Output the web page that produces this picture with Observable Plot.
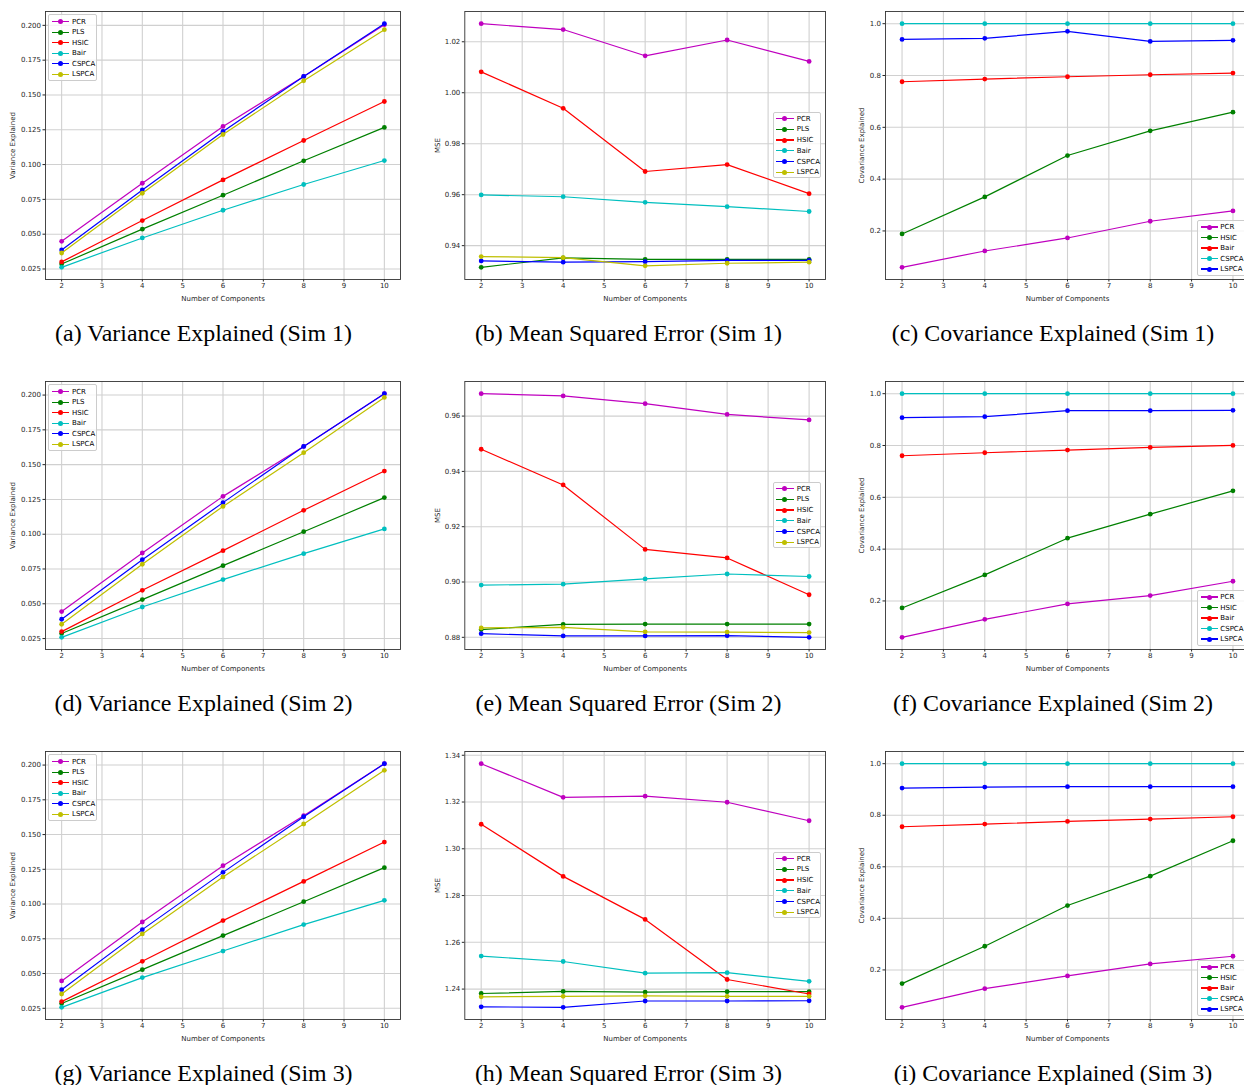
<!DOCTYPE html>
<html><head><meta charset="utf-8">
<script src="https://cdn.jsdelivr.net/npm/d3@7"></script>
<script src="https://cdn.jsdelivr.net/npm/@observablehq/plot@0.6"></script>
<style>
html,body{margin:0;padding:0;background:#fff;overflow:hidden;width:1244px;height:1085px;}
#root{position:relative;width:1244px;height:1085px;overflow:hidden;}
.panel{position:absolute;}
.caption{position:absolute;font-family:"Liberation Serif","Times New Roman",serif;font-size:23.9px;line-height:1;text-align:center;white-space:nowrap;color:#000;}
.legend{position:absolute;background:rgba(255,255,255,0.8);border:0.8px solid #cccccc;border-radius:2px;box-sizing:border-box;font-family:"DejaVu Sans",sans-serif;font-size:7px;color:#000;}
.entry{position:absolute;left:0;height:10px;width:100%;}
.entry .ln{position:absolute;height:1.2px;top:4.4px;width:17.6px;}
.entry .dt{position:absolute;width:5px;height:5px;border-radius:50%;top:2.5px;}
.entry .tx{position:absolute;top:0;line-height:10px;white-space:nowrap;}
</style></head>
<body><div id="root"></div>
<script>
const components = [2, 4, 6, 8, 10];
const xTicks = [2, 3, 4, 5, 6, 7, 8, 9, 10];
const methodsVar = ["PCR", "PLS", "HSIC", "Bair", "CSPCA", "LSPCA"];
const methodsCov = ["PCR", "HSIC", "Bair", "CSPCA", "LSPCA"];
const colorsVar = ["#bf00bf", "#008000", "#ff0000", "#00bfbf", "#0000ff", "#bfbf00"];
const colorsCov = ["#bf00bf", "#008000", "#ff0000", "#00bfbf", "#0000ff"];

const varSim1 = [
  [0.0449, 0.0866, 0.1274, 0.1633, 0.2005],
  [0.0286, 0.0536, 0.0780, 0.1027, 0.1267],
  [0.0301, 0.0598, 0.0890, 0.1173, 0.1453],
  [0.0262, 0.0473, 0.0672, 0.0857, 0.1029],
  [0.0387, 0.0818, 0.1238, 0.1633, 0.2012],
  [0.0365, 0.0794, 0.1216, 0.1602, 0.1969]
];
const mseSim1 = [
  [1.0271, 1.0248, 1.0145, 1.0207, 1.0123],
  [0.9315, 0.9352, 0.9346, 0.9346, 0.9346],
  [1.0082, 0.9939, 0.9691, 0.9718, 0.9604],
  [0.9599, 0.9592, 0.9570, 0.9553, 0.9534],
  [0.9340, 0.9335, 0.9337, 0.9342, 0.9342],
  [0.9357, 0.9353, 0.9321, 0.9331, 0.9335]
];
const covSim1 = [
  [0.0596, 0.1227, 0.1729, 0.2374, 0.2773],
  [0.1884, 0.3314, 0.4911, 0.5865, 0.6586],
  [0.7758, 0.7861, 0.7952, 0.8029, 0.8093],
  [1.0, 1.0, 1.0, 1.0, 1.0],
  [0.9394, 0.9433, 0.9704, 0.9317, 0.9356]
];
const varSim2 = [
  [0.0444, 0.0865, 0.1272, 0.1631, 0.2010],
  [0.0286, 0.0530, 0.0774, 0.1018, 0.1263],
  [0.0300, 0.0597, 0.0882, 0.1172, 0.1454],
  [0.0259, 0.0477, 0.0674, 0.0860, 0.1038],
  [0.0389, 0.0817, 0.1227, 0.1631, 0.2010],
  [0.0353, 0.0784, 0.1200, 0.1586, 0.1983]
];
const mseSim2 = [
  [0.9681, 0.9673, 0.9645, 0.9606, 0.9586],
  [0.8828, 0.8847, 0.8848, 0.8848, 0.8848],
  [0.9480, 0.9351, 0.9118, 0.9087, 0.8954],
  [0.8989, 0.8992, 0.9011, 0.9029, 0.9020],
  [0.8813, 0.8805, 0.8805, 0.8806, 0.8800],
  [0.8834, 0.8836, 0.8820, 0.8819, 0.8817]
];
const covSim2 = [
  [0.0596, 0.1291, 0.1884, 0.2206, 0.2760],
  [0.1729, 0.3005, 0.4422, 0.5349, 0.6251],
  [0.7604, 0.7720, 0.7823, 0.7926, 0.8003],
  [1.0, 1.0, 1.0, 1.0, 1.0],
  [0.9072, 0.9111, 0.9343, 0.9343, 0.9356]
];
const varSim3 = [
  [0.0447, 0.0871, 0.1276, 0.1636, 0.2010],
  [0.0284, 0.0528, 0.0773, 0.1017, 0.1262],
  [0.0298, 0.0588, 0.0881, 0.1163, 0.1446],
  [0.0257, 0.0471, 0.0662, 0.0852, 0.1027],
  [0.0384, 0.0816, 0.1228, 0.1628, 0.2010],
  [0.0353, 0.0785, 0.1195, 0.1576, 0.1962]
];
const mseSim3 = [
  [1.3364, 1.3220, 1.3225, 1.3199, 1.3120],
  [1.2381, 1.2390, 1.2387, 1.2389, 1.2389],
  [1.3105, 1.2882, 1.2698, 1.2441, 1.2379],
  [1.2541, 1.2518, 1.2468, 1.2470, 1.2433],
  [1.2324, 1.2322, 1.2349, 1.2349, 1.2350],
  [1.2367, 1.2369, 1.2371, 1.2369, 1.2369]
];
const covSim3 = [
  [0.0550, 0.1275, 0.1767, 0.2233, 0.2531],
  [0.1469, 0.2919, 0.4498, 0.5638, 0.7010],
  [0.7553, 0.7657, 0.7761, 0.7851, 0.7942],
  [1.0, 1.0, 1.0, 1.0, 1.0],
  [0.9055, 0.9094, 0.9107, 0.9107, 0.9107]
];

const varTicks = [0.025, 0.05, 0.075, 0.1, 0.125, 0.15, 0.175, 0.2];
const mseTicks1 = [0.94, 0.96, 0.98, 1.0, 1.02];
const mseTicks2 = [0.88, 0.90, 0.92, 0.94, 0.96];
const mseTicks3 = [1.24, 1.26, 1.28, 1.30, 1.32, 1.34];
const covTicks = [0.2, 0.4, 0.6, 0.8, 1.0];

const captions = [
  ["(a) Variance Explained (Sim 1)", "(b) Mean Squared Error (Sim 1)", "(c) Covariance Explained (Sim 1)"],
  ["(d) Variance Explained (Sim 2)", "(e) Mean Squared Error (Sim 2)", "(f) Covariance Explained (Sim 2)"],
  ["(g) Variance Explained (Sim 3)", "(h) Mean Squared Error (Sim 3)", "(i) Covariance Explained (Sim 3)"]
];

const root = document.getElementById("root");

const cols = [
  {left: 0, width: 410, ml: 45, mr: 10, ylabel: "Variance Explained", fmt: d3.format(".3f"), labelOffset: 35,
   legend: {left: 48, top: 14, width: 49, height: 67, line: 2.7, text: 23, first: 6.7, step: 10.5}},
  {left: 410, width: 420, ml: 54.3, mr: 5, ylabel: "MSE", fmt: d3.format(".2f"), labelOffset: 30,
   legend: {left: 772.7, top: 112, width: 48.3, height: 66.3, line: 2.3, text: 23, first: 5.7, step: 10.7}},
  {left: 830, width: 424, ml: 55, mr: 5, ylabel: "Covariance Explained", fmt: d3.format(".1f"), labelOffset: 26,
   legend: {left: 1197.3, top: 220, width: 60, height: 55.7, line: 2.4, text: 22, first: 6, step: 10.5}}
];

const panels = [
  [[varSim1, methodsVar, colorsVar, varTicks], [mseSim1, methodsVar, colorsVar, mseTicks1], [covSim1, methodsCov, colorsCov, covTicks]],
  [[varSim2, methodsVar, colorsVar, varTicks], [mseSim2, methodsVar, colorsVar, mseTicks2], [covSim2, methodsCov, colorsCov, covTicks]],
  [[varSim3, methodsVar, colorsVar, varTicks], [mseSim3, methodsVar, colorsVar, mseTicks3], [covSim3, methodsCov, colorsCov, covTicks]]
];

const captionCenters = [203.5, 628.5, 1053];

panels.forEach((row, r) => {
  const top = r * 370;
  row.forEach(([series, names, colors, ticks], c) => {
    const col = cols[c];
    const all = series.flat();
    const lo = d3.min(all), hi = d3.max(all), pad = (hi - lo) * 0.05;
    const marks = [
      Plot.gridX(xTicks, {stroke: "#d0d0d0", strokeOpacity: 1, strokeWidth: 1.1}),
      Plot.gridY(ticks, {stroke: "#d0d0d0", strokeOpacity: 1, strokeWidth: 1.1}),
      Plot.axisX({ticks: xTicks, tickSize: 2.5, tickPadding: 1.5, label: "Number of Components", labelAnchor: "center", labelOffset: 21, labelArrow: "none"}),
      Plot.axisY({ticks: ticks, tickFormat: col.fmt, tickSize: 2.5, tickPadding: 2, label: col.ylabel, labelAnchor: "center", labelOffset: col.labelOffset, labelArrow: "none"})
    ];
    series.forEach((vals, i) => {
      const data = components.map((x, j) => ({x, y: vals[j]}));
      marks.push(Plot.line(data, {x: "x", y: "y", stroke: colors[i], strokeWidth: 1.2}));
      marks.push(Plot.dot(data, {x: "x", y: "y", fill: colors[i], r: 2.4}));
    });
    marks.push(Plot.frame({stroke: "#333", strokeWidth: 0.9}));
    const chart = Plot.plot({
      width: col.width, height: 310,
      marginLeft: col.ml, marginRight: col.mr, marginTop: 11, marginBottom: 31,
      x: {domain: [1.6, 10.4]},
      y: {domain: [lo - pad, hi + pad]},
      style: {fontFamily: "'DejaVu Sans', sans-serif", fontSize: "7px", color: "#262626", background: "transparent", overflow: "visible"},
      marks
    });
    chart.classList.add("panel");
    chart.style.left = col.left + "px";
    chart.style.top = top + "px";
    chart.style.position = "absolute";
    root.appendChild(chart);

    const L = col.legend;
    const box = document.createElement("div");
    box.className = "legend";
    box.style.left = L.left + "px";
    box.style.top = (L.top + top) + "px";
    box.style.width = L.width + "px";
    box.style.height = L.height + "px";
    names.forEach((name, i) => {
      const e = document.createElement("div");
      e.className = "entry";
      e.style.top = (L.first + i * L.step - 5) + "px";
      const ln = document.createElement("span"); ln.className = "ln";
      ln.style.left = L.line + "px"; ln.style.background = colors[i];
      const dt = document.createElement("span"); dt.className = "dt";
      dt.style.left = (L.line + 8.8 - 2.5) + "px"; dt.style.background = colors[i];
      const tx = document.createElement("span"); tx.className = "tx";
      tx.style.left = L.text + "px"; tx.textContent = name;
      e.append(ln, dt, tx);
      box.appendChild(e);
    });
    root.appendChild(box);

    const cap = document.createElement("div");
    cap.className = "caption";
    cap.textContent = captions[r][c];
    cap.style.left = (captionCenters[c] - 200) + "px";
    cap.style.width = "400px";
    cap.style.top = (321.5 + top) + "px";
    root.appendChild(cap);
  });
});
</script>
</body></html>
